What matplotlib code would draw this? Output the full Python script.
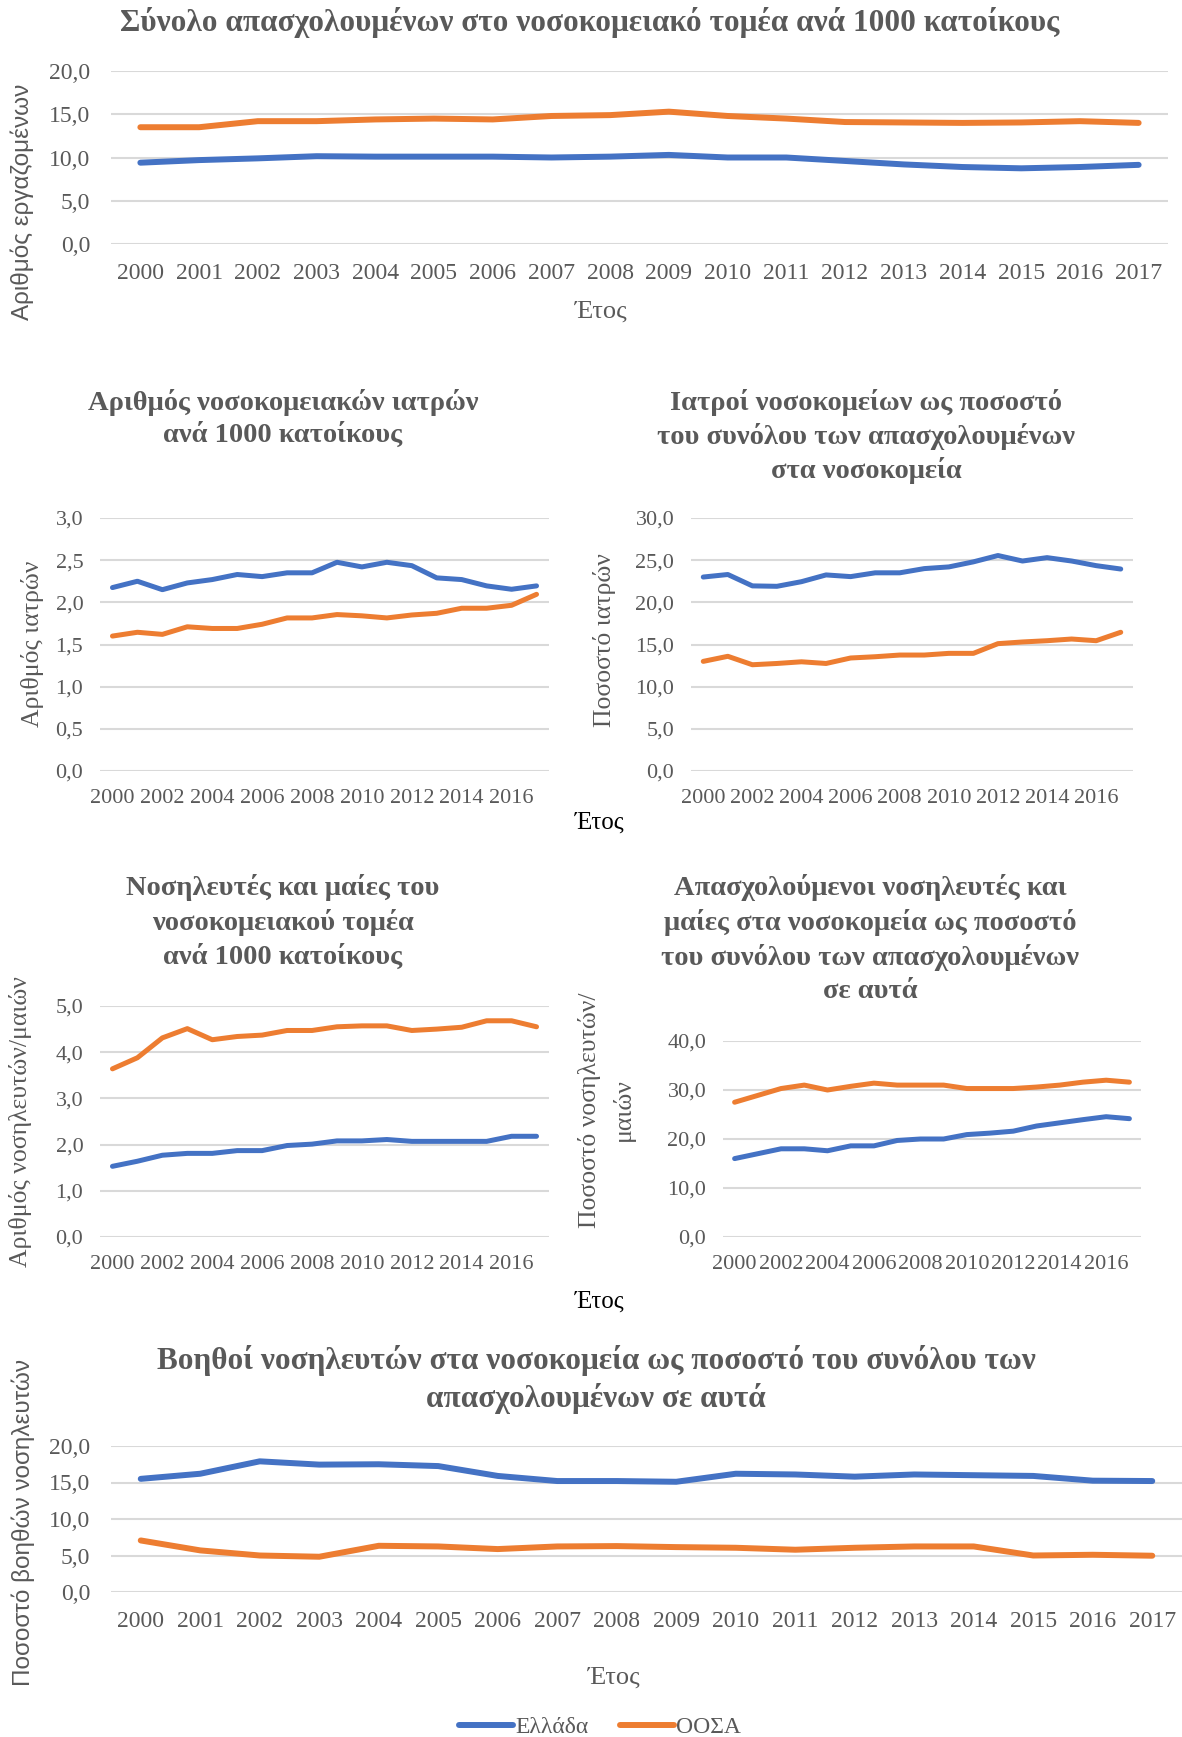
import matplotlib
matplotlib.use("Agg")
import matplotlib.pyplot as plt
from matplotlib.ticker import FuncFormatter, MultipleLocator

# Χρονιές και σειρές (Ελλάδα / ΟΟΣΑ)
years = list(range(2000, 2018))

staff_gr = [9.4, 9.7, 9.9, 10.15, 10.1, 10.1, 10.1, 10.0, 10.1, 10.3, 10.0, 10.0, 9.6, 9.2, 8.9, 8.75, 8.9, 9.15]
staff_oecd = [13.5, 13.5, 14.2, 14.2, 14.4, 14.5, 14.4, 14.8, 14.9, 15.3, 14.8, 14.5, 14.1, 14.05, 14.0, 14.05, 14.2, 14.0]

doctors_gr = [2.175, 2.25, 2.15, 2.23, 2.27, 2.33, 2.305, 2.35, 2.35, 2.475, 2.42, 2.475, 2.435, 2.29, 2.27, 2.195, 2.155, 2.195]
doctors_oecd = [1.60, 1.645, 1.62, 1.71, 1.69, 1.69, 1.74, 1.815, 1.815, 1.855, 1.84, 1.815, 1.85, 1.87, 1.93, 1.93, 1.965, 2.095]

doc_share_gr = [23.0, 23.3, 21.95, 21.9, 22.45, 23.25, 23.05, 23.5, 23.5, 24.0, 24.2, 24.8, 25.55, 24.9, 25.3, 24.9, 24.35, 23.95]
doc_share_oecd = [13.0, 13.6, 12.6, 12.75, 12.95, 12.75, 13.4, 13.55, 13.75, 13.75, 13.95, 13.95, 15.1, 15.3, 15.45, 15.65, 15.45, 16.45]

nurses_gr = [1.53, 1.64, 1.77, 1.81, 1.81, 1.87, 1.87, 1.98, 2.01, 2.08, 2.08, 2.11, 2.07, 2.07, 2.07, 2.07, 2.18, 2.18]
nurses_oecd = [3.64, 3.88, 4.31, 4.51, 4.27, 4.34, 4.37, 4.47, 4.47, 4.55, 4.57, 4.57, 4.47, 4.50, 4.54, 4.68, 4.68, 4.55]

nurse_share_gr = [16.0, 17.0, 18.0, 18.0, 17.6, 18.6, 18.6, 19.7, 20.0, 20.0, 20.9, 21.2, 21.6, 22.65, 23.3, 23.95, 24.55, 24.15]
nurse_share_oecd = [27.5, 28.9, 30.3, 31.0, 30.0, 30.75, 31.4, 31.0, 31.0, 31.0, 30.3, 30.3, 30.3, 30.6, 31.0, 31.6, 32.0, 31.6]

assist_gr = [15.5, 16.2, 17.9, 17.45, 17.5, 17.25, 15.9, 15.2, 15.2, 15.1, 16.2, 16.1, 15.8, 16.1, 16.0, 15.9, 15.25, 15.2]
assist_oecd = [7.06, 5.7, 5.0, 4.83, 6.33, 6.24, 5.88, 6.24, 6.29, 6.15, 6.06, 5.79, 6.06, 6.24, 6.24, 5.0, 5.1, 4.97]

BLUE = "#4472C4"
ORANGE = "#ED7D31"
GREY = "#595959"
GRID = "#D9D9D9"
SERIF = "Liberation Serif"
SANS = "Liberation Sans"

W, H = 1182, 1737
fig = plt.figure(figsize=(W / 100, H / 100), dpi=100)
plt.rcParams["font.family"] = SERIF


def axes_px(left, top, right, bottom):
    return fig.add_axes([left / W, 1 - bottom / H, (right - left) / W, (bottom - top) / H])


def text_px(x, y, s, **kw):
    kw.setdefault("ha", "center")
    kw.setdefault("va", "center")
    fig.text(x / W, 1 - y / H, s, **kw)


comma = FuncFormatter(lambda v, _: f"{v:.1f}".replace(".", ","))


def line_chart(ax, gr, oecd, ymax, step, lw, every=1, fs=16, xpad=13, ypad=12):
    ax.plot(years, gr, color=BLUE, lw=lw, solid_joinstyle="round", solid_capstyle="round", label="Ελλάδα")
    ax.plot(years, oecd, color=ORANGE, lw=lw, solid_joinstyle="round", solid_capstyle="round", label="ΟΟΣΑ")
    ax.set_xlim(1999.5, 2017.5)
    ax.set_ylim(0, ymax)
    ax.yaxis.set_major_locator(MultipleLocator(step))
    ax.yaxis.set_major_formatter(comma)
    ax.set_xticks(years[::every])
    ax.set_xticklabels([str(y) for y in years[::every]])
    ax.grid(axis="y", color=GRID, lw=1.5)
    ax.set_axisbelow(True)
    for s in ax.spines.values():
        s.set_visible(False)
    ax.tick_params(length=0, colors=GREY, labelsize=fs)
    ax.tick_params(axis="x", pad=xpad)
    ax.tick_params(axis="y", pad=ypad)


def title_lines(x, y0, lines, size, gap):
    for i, s in enumerate(lines):
        text_px(x, y0 + i * gap, s, fontsize=size, fontweight="bold", color=GREY)


# Συνολικό προσωπικό
ax1 = axes_px(111, 71, 1168, 244)
line_chart(ax1, staff_gr, staff_oecd, 20, 5, 4.3, fs=17, xpad=14, ypad=15)
title_lines(590, 22, ["Σύνολο απασχολουμένων στο νοσοκομειακό τομέα ανά 1000 κατοίκους"], 22.5, 0)
text_px(601, 312, "Έτος", fontsize=19, color=GREY)
text_px(22, 202, "Αριθμός εργαζομένων", fontsize=17.5, color=GREY, rotation=90, family=SANS)

# Ιατροί ανά 1000 κατοίκους
ax2 = axes_px(100, 518, 549, 771)
line_chart(ax2, doctors_gr, doctors_oecd, 3, 0.5, 3.6, every=2)
title_lines(283, 402, ["Αριθμός νοσοκομειακών ιατρών", "ανά 1000 κατοίκους"], 20.5, 33)
text_px(33, 644, "Αριθμός ιατρών", fontsize=18.5, color=GREY, rotation=90)

# Ιατροί ως ποσοστό
ax3 = axes_px(691, 518, 1133, 771)
line_chart(ax3, doc_share_gr, doc_share_oecd, 30, 5, 3.6, every=2)
title_lines(866, 402, ["Ιατροί νοσοκομείων ως ποσοστό", "του συνόλου των απασχολουμένων",
                       "στα νοσοκομεία"], 20.5, 34)
text_px(605, 640, "Ποσοστό ιατρών", fontsize=18.5, color=GREY, rotation=90)

text_px(600, 823, "Έτος", fontsize=18, color="black")

# Νοσηλευτές ανά 1000 κατοίκους
ax4 = axes_px(100, 1006, 549, 1237)
line_chart(ax4, nurses_gr, nurses_oecd, 5, 1, 3.6, every=2)
title_lines(283, 888, ["Νοσηλευτές και μαίες του", "νοσοκομειακού τομέα", "ανά 1000 κατοίκους"], 20.5, 34.5)
text_px(21, 1122, "Αριθμός νοσηλευτών/μαιών", fontsize=18.5, color=GREY, rotation=90)

# Νοσηλευτές ως ποσοστό
ax5 = axes_px(723, 1041, 1141, 1237)
line_chart(ax5, nurse_share_gr, nurse_share_oecd, 40, 10, 3.6, every=2)
title_lines(870, 888, ["Απασχολούμενοι νοσηλευτές και", "μαίες στα νοσοκομεία ως ποσοστό",
                       "του συνόλου των απασχολουμένων", "σε αυτά"], 20.5, 34.5)
text_px(606, 1110, "Ποσοστό νοσηλευτών/\nμαιών", fontsize=18.5, color=GREY, rotation=90,
        multialignment="center", linespacing=1.6)

text_px(600, 1302, "Έτος", fontsize=18, color="black")

# Βοηθοί νοσηλευτών
ax6 = axes_px(111, 1446, 1182, 1592)
line_chart(ax6, assist_gr, assist_oecd, 20, 5, 4.3, fs=17, xpad=14, ypad=15)
title_lines(596, 1360, ["Βοηθοί νοσηλευτών στα νοσοκομεία ως ποσοστό του συνόλου των",
                        "απασχολουμένων σε αυτά"], 22.5, 38)
text_px(614, 1678, "Έτος", fontsize=19, color=GREY)
text_px(23, 1523, "Ποσοστό βοηθών νοσηλευτών", fontsize=17.5, color=GREY, rotation=90, family=SANS)

handles, labels = ax6.get_legend_handles_labels()
leg = fig.legend(handles, labels, loc="center", bbox_to_anchor=(600 / W, 1 - 1727 / H), ncol=2,
                 frameon=False, fontsize=17, handlelength=2.3, handletextpad=0.1, columnspacing=1.3)
for t in leg.get_texts():
    t.set_color(GREY)

fig.savefig("out.png", dpi=100)
